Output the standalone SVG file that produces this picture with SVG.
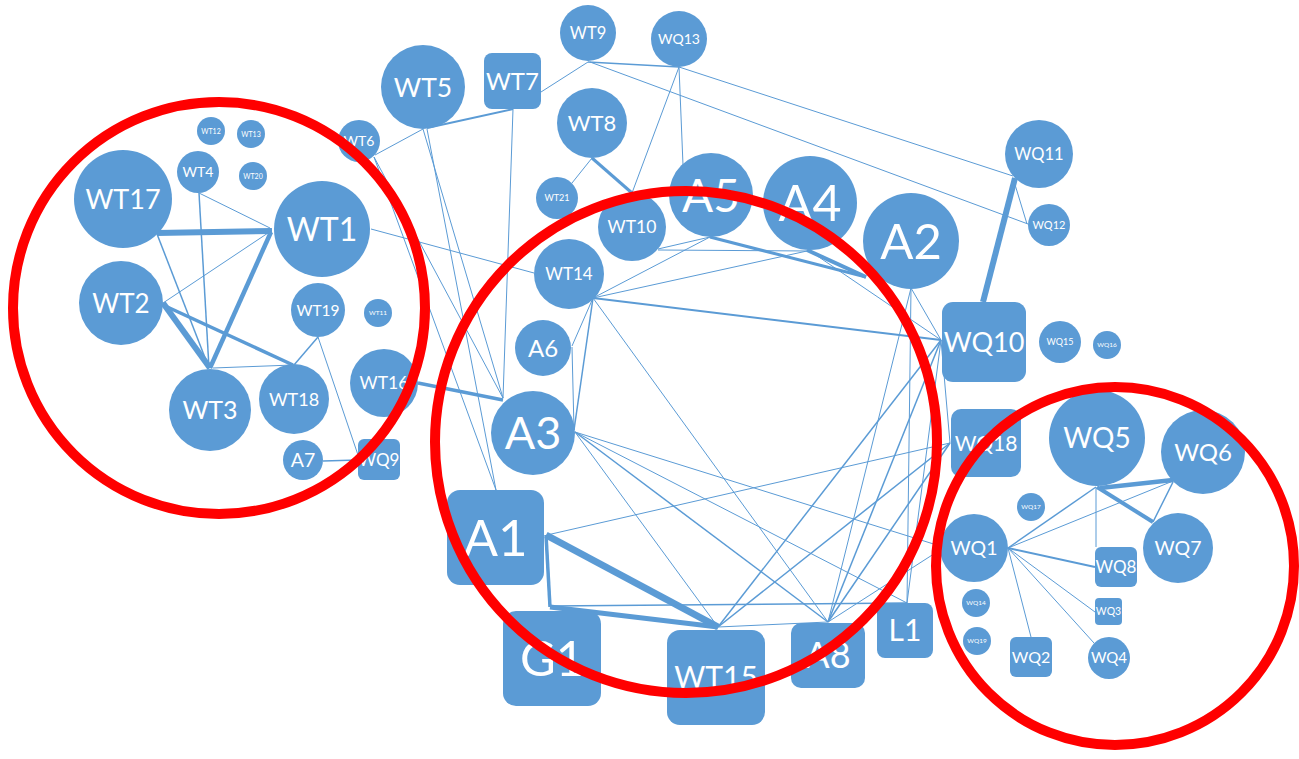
<svg xmlns="http://www.w3.org/2000/svg" width="1299" height="759" viewBox="0 0 1299 759">
<style>
.n{fill:#5B9BD5}
.t{fill:#fff;font-family:Lato,"Open Sans",sans-serif;text-anchor:middle}
.e{stroke:#5B9BD5;fill:none}
.r{fill:none;stroke:#FF0000;stroke-width:10}
</style>
<rect width="1299" height="759" fill="#fff"/>
<g id="connectors">
<path class="e" stroke-width="6" d="M157 233L272 231"/>
<path class="e" stroke-width="1" d="M199 193L270 228"/>
<path class="e" stroke-width="1.5" d="M199 193L209 368"/>
<path class="e" stroke-width="1.5" d="M157 234L209 368"/>
<path class="e" stroke-width="1" d="M271 231L163 303"/>
<path class="e" stroke-width="4.5" d="M271 232L210 368"/>
<path class="e" stroke-width="6" d="M163 303L210 368"/>
<path class="e" stroke-width="3.5" d="M163 305L293 365"/>
<path class="e" stroke-width="1" d="M213 368L293 365"/>
<path class="e" stroke-width="1.5" d="M318 337L294 365"/>
<path class="e" stroke-width="1" d="M318 337L358 455"/>
<path class="e" stroke-width="1.5" d="M323 461L358 460"/>
<path class="e" stroke-width="1" d="M371 229L534 273"/>
<path class="e" stroke-width="1" d="M375 155L423 129"/>
<path class="e" stroke-width="2" d="M427 128L513 109"/>
<path class="e" stroke-width="1" d="M541 92L588 62"/>
<path class="e" stroke-width="1.5" d="M588 62L679 67"/>
<path class="e" stroke-width="1" d="M679 67L1013 176"/>
<path class="e" stroke-width="1" d="M590 62L1028 224"/>
<path class="e" stroke-width="1" d="M679 67L683 165"/>
<path class="e" stroke-width="1" d="M679 67L632 193"/>
<path class="e" stroke-width="3" d="M592 158L632 193"/>
<path class="e" stroke-width="1" d="M592 158L572 183"/>
<path class="e" stroke-width="1" d="M423 129L503 398"/>
<path class="e" stroke-width="1" d="M427 129L496 490"/>
<path class="e" stroke-width="1" d="M374 157L496 490"/>
<path class="e" stroke-width="1" d="M374 157L503 398"/>
<path class="e" stroke-width="1" d="M513 109L503 398"/>
<path class="e" stroke-width="3.5" d="M418 383L503 400"/>
<path class="e" stroke-width="1" d="M593 298L710 237"/>
<path class="e" stroke-width="1" d="M593 298L807 251"/>
<path class="e" stroke-width="2" d="M593 298L941 340"/>
<path class="e" stroke-width="1" d="M593 298L572 346"/>
<path class="e" stroke-width="1.5" d="M593 298L574 430"/>
<path class="e" stroke-width="1" d="M593 298L828 622"/>
<path class="e" stroke-width="1" d="M572 347L574 430"/>
<path class="e" stroke-width="1" d="M658 250L810 251"/>
<path class="e" stroke-width="1" d="M658 249L710 237"/>
<path class="e" stroke-width="3" d="M710 237L866 277"/>
<path class="e" stroke-width="4" d="M807 250L866 277"/>
<path class="e" stroke-width="1" d="M810 251L941 340"/>
<path class="e" stroke-width="1" d="M911 288L941 340"/>
<path class="e" stroke-width="1" d="M911 288L907 603"/>
<path class="e" stroke-width="1" d="M911 288L828 622"/>
<path class="e" stroke-width="1" d="M575 432L718 627"/>
<path class="e" stroke-width="1.5" d="M575 432L828 622"/>
<path class="e" stroke-width="1" d="M575 432L907 603"/>
<path class="e" stroke-width="1" d="M575 432L940 546"/>
<path class="e" stroke-width="1" d="M547 535L950 443"/>
<path class="e" stroke-width="7" d="M546 535L718 627"/>
<path class="e" stroke-width="3.5" d="M546 535L550 607"/>
<path class="e" stroke-width="5" d="M550 607L718 627"/>
<path class="e" stroke-width="1.5" d="M550 606L907 603"/>
<path class="e" stroke-width="1" d="M718 627L828 622"/>
<path class="e" stroke-width="1.5" d="M718 627L941 340"/>
<path class="e" stroke-width="1.5" d="M718 627L950 443"/>
<path class="e" stroke-width="1.5" d="M828 622L941 340"/>
<path class="e" stroke-width="1.5" d="M828 622L950 443"/>
<path class="e" stroke-width="1" d="M828 622L940 550"/>
<path class="e" stroke-width="1" d="M941 340L907 603"/>
<path class="e" stroke-width="1" d="M941 340L950 443"/>
<path class="e" stroke-width="6" d="M1015 178L983 302"/>
<path class="e" stroke-width="1" d="M1013 178L1027 224"/>
<path class="e" stroke-width="4.5" d="M1100 488L1173 480"/>
<path class="e" stroke-width="4" d="M1097 487L1153 522"/>
<path class="e" stroke-width="1.5" d="M1173 482L1153 522"/>
<path class="e" stroke-width="1.5" d="M1008 548L1096 487"/>
<path class="e" stroke-width="1" d="M1008 548L1173 481"/>
<path class="e" stroke-width="2" d="M1008 548L1095 567"/>
<path class="e" stroke-width="1" d="M1008 548L1095 612"/>
<path class="e" stroke-width="1" d="M1008 548L1094 643"/>
<path class="e" stroke-width="1" d="M1008 548L1031 637"/>
<path class="e" stroke-width="1" d="M1096 487L1096 547"/>
</g>
<g id="WT12"><circle class="n" cx="211" cy="131" r="14"/><text class="t" x="211" y="133.5" font-size="7">WT12</text></g>
<g id="WT13"><circle class="n" cx="251" cy="134" r="14"/><text class="t" x="251" y="136.5" font-size="7">WT13</text></g>
<g id="WT4"><circle class="n" cx="198" cy="172" r="21"/><text class="t" x="198" y="177" font-size="14">WT4</text></g>
<g id="WT20"><circle class="n" cx="253" cy="176" r="14"/><text class="t" x="253" y="178.5" font-size="7">WT20</text></g>
<g id="WT17"><circle class="n" cx="123" cy="199" r="49"/><text class="t" x="123" y="209" font-size="27">WT17</text></g>
<g id="WT1"><circle class="n" cx="322" cy="229" r="48"/><text class="t" x="322" y="240.5" font-size="32">WT1</text></g>
<g id="WT2"><circle class="n" cx="121" cy="303" r="42"/><text class="t" x="121" y="312.5" font-size="26">WT2</text></g>
<g id="WT19"><circle class="n" cx="318" cy="310" r="27"/><text class="t" x="318" y="315.5" font-size="15.5">WT19</text></g>
<g id="WT11"><circle class="n" cx="378" cy="313" r="14"/><text class="t" x="378" y="315.3" font-size="6.5">WT11</text></g>
<g id="WT6"><circle class="n" cx="359" cy="141" r="21"/><text class="t" x="359" y="146" font-size="14">WT6</text></g>
<g id="WT3"><circle class="n" cx="210" cy="410" r="41"/><text class="t" x="210" y="419" font-size="25">WT3</text></g>
<g id="WT18"><circle class="n" cx="294" cy="399" r="35"/><text class="t" x="294" y="405.5" font-size="18">WT18</text></g>
<g id="WT16"><circle class="n" cx="384" cy="383" r="34"/><text class="t" x="384" y="389.3" font-size="17.5">WT16</text></g>
<g id="A7"><circle class="n" cx="303" cy="460" r="20"/><text class="t" x="303" y="467" font-size="19.5">A7</text></g>
<g id="WQ9"><rect class="n" x="358" y="439" width="42" height="41" rx="6"/><text class="t" x="379" y="465.6" font-size="17">WQ9</text></g>
<g id="WT9"><circle class="n" cx="588" cy="33" r="28"/><text class="t" x="588" y="39" font-size="16.5">WT9</text></g>
<g id="WQ13"><circle class="n" cx="679" cy="39" r="28"/><text class="t" x="679" y="44" font-size="14">WQ13</text></g>
<g id="WT5"><circle class="n" cx="423" cy="87" r="42"/><text class="t" x="423" y="96.5" font-size="26.5">WT5</text></g>
<g id="WT7"><rect class="n" x="484" y="53" width="57" height="56" rx="8"/><text class="t" x="512.5" y="89.6" font-size="24">WT7</text></g>
<g id="WT8"><circle class="n" cx="592" cy="123" r="35"/><text class="t" x="592" y="131" font-size="22">WT8</text></g>
<g id="WT21"><circle class="n" cx="557" cy="198" r="21"/><text class="t" x="557" y="201.2" font-size="9">WT21</text></g>
<g id="WT10"><circle class="n" cx="632" cy="227" r="34"/><text class="t" x="632" y="233.3" font-size="17.5">WT10</text></g>
<g id="A5"><circle class="n" cx="711" cy="195" r="42"/><text class="t" x="711" y="211.5" font-size="46">A5</text></g>
<g id="A4"><circle class="n" cx="810" cy="203" r="47"/><text class="t" x="810" y="221" font-size="50">A4</text></g>
<g id="A2"><circle class="n" cx="911" cy="241" r="48"/><text class="t" x="911" y="258.6" font-size="49">A2</text></g>
<g id="WQ11"><circle class="n" cx="1039" cy="154" r="34"/><text class="t" x="1039" y="160" font-size="16.5">WQ11</text></g>
<g id="WQ12"><circle class="n" cx="1049" cy="225" r="21"/><text class="t" x="1049" y="229" font-size="11">WQ12</text></g>
<g id="WT14"><circle class="n" cx="569" cy="274" r="35"/><text class="t" x="569" y="280" font-size="17">WT14</text></g>
<g id="A6"><circle class="n" cx="543" cy="348" r="28"/><text class="t" x="543" y="356.6" font-size="24">A6</text></g>
<g id="A3"><circle class="n" cx="533" cy="433" r="42"/><text class="t" x="533" y="449.2" font-size="45">A3</text></g>
<g id="A1"><rect class="n" x="447" y="490" width="97" height="95" rx="13"/><text class="t" x="495.5" y="555.8" font-size="51">A1</text></g>
<g id="G1"><rect class="n" x="503" y="611" width="98" height="95" rx="13"/><text class="t" x="552" y="676.2" font-size="49">G1</text></g>
<g id="WT15"><rect class="n" x="667" y="630" width="98" height="95" rx="13"/><text class="t" x="716" y="688.3" font-size="30">WT15</text></g>
<g id="A8"><rect class="n" x="791" y="623" width="74" height="65" rx="10"/><text class="t" x="828" y="668" font-size="36">A8</text></g>
<g id="L1"><rect class="n" x="877" y="603" width="56" height="55" rx="8"/><text class="t" x="905" y="641.3" font-size="30">L1</text></g>
<g id="WQ10"><rect class="n" x="942" y="302" width="84" height="80" rx="11"/><text class="t" x="984" y="351.7" font-size="27">WQ10</text></g>
<g id="WQ15"><circle class="n" cx="1060" cy="342" r="21"/><text class="t" x="1060" y="345.2" font-size="9">WQ15</text></g>
<g id="WQ16"><circle class="n" cx="1107" cy="345" r="14"/><text class="t" x="1107" y="347.3" font-size="6.5">WQ16</text></g>
<g id="WQ18"><rect class="n" x="951" y="409" width="70" height="68" rx="10"/><text class="t" x="986" y="450.6" font-size="21">WQ18</text></g>
<g id="WQ5"><circle class="n" cx="1097" cy="438" r="48"/><text class="t" x="1097" y="448" font-size="28">WQ5</text></g>
<g id="WQ6"><circle class="n" cx="1203" cy="452" r="42"/><text class="t" x="1203" y="460.6" font-size="24">WQ6</text></g>
<g id="WQ17"><circle class="n" cx="1031" cy="507" r="14"/><text class="t" x="1031" y="509.3" font-size="6.5">WQ17</text></g>
<g id="WQ1"><circle class="n" cx="974" cy="548" r="34"/><text class="t" x="974" y="555" font-size="19.5">WQ1</text></g>
<g id="WQ7"><circle class="n" cx="1178" cy="548" r="35"/><text class="t" x="1178" y="555" font-size="19.5">WQ7</text></g>
<g id="WQ8"><rect class="n" x="1095" y="547" width="42" height="40" rx="6"/><text class="t" x="1116" y="573.1" font-size="17">WQ8</text></g>
<g id="WQ3"><rect class="n" x="1095" y="598" width="27" height="27" rx="4"/><text class="t" x="1108.5" y="615.1" font-size="10.5">WQ3</text></g>
<g id="WQ14"><circle class="n" cx="976" cy="603" r="14"/><text class="t" x="976" y="605.3" font-size="6.5">WQ14</text></g>
<g id="WQ19"><circle class="n" cx="977" cy="641" r="14"/><text class="t" x="977" y="643.3" font-size="6.5">WQ19</text></g>
<g id="WQ2"><rect class="n" x="1010" y="637" width="42" height="40" rx="6"/><text class="t" x="1031" y="662.8" font-size="16">WQ2</text></g>
<g id="WQ4"><circle class="n" cx="1109" cy="658" r="21"/><text class="t" x="1109" y="663.4" font-size="15">WQ4</text></g>
<g id="highlights">
<circle class="r" cx="219" cy="308" r="206"/>
<circle class="r" cx="686" cy="442" r="251" stroke-width="11"/>
<circle class="r" cx="1115" cy="566" r="179"/>
</g>
</svg>
